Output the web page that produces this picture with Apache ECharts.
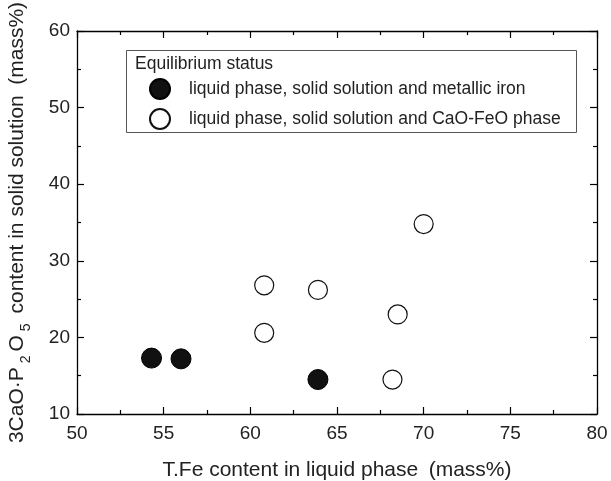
<!DOCTYPE html>
<html><head><meta charset="utf-8">
<script src="https://cdn.jsdelivr.net/npm/echarts@6/dist/echarts.min.js"></script>
<style>html,body{margin:0;padding:0;background:#fff}#c{width:611px;height:481px}</style>
</head><body><div id="c"></div>
<script>
var seriesNames = ['liquid phase, solid solution and metallic iron', 'liquid phase, solid solution and CaO-FeO phase'];
var metallicIron = [[54.3, 17.3], [56.0, 17.2], [63.9, 14.5]];
var caoFeoPhase = [[60.8, 26.8], [60.8, 20.6], [63.9, 26.2], [68.5, 23.0], [68.2, 14.5], [70.0, 34.8]];
var legendTitle = 'Equilibrium status';
var xName = 'T.Fe content in liquid phase\u2002(mass%)';

var F = 'Liberation Sans, Arial, sans-serif';
var chart = echarts.init(document.getElementById('c'));
var axisCommon = {
  axisLine: {lineStyle: {color: '#000', width: 1.3}},
  axisTick: {inside: true, length: 7, lineStyle: {color: '#000', width: 1.2}},
  minorTick: {show: true, splitNumber: 2, length: 4, lineStyle: {color: '#000', width: 1.2}},
  splitLine: {show: false}
};
chart.setOption({
  animation: false,
  textStyle: {fontFamily: F},
  grid: {left: 77, right: 14, top: 31, bottom: 67, containLabel: false, outerBoundsMode: 'none'},
  xAxis: [
    Object.assign({type: 'value', min: 50, max: 80, interval: 5, position: 'bottom',
      name: xName, nameLocation: 'middle', nameGap: 46,
      nameTextStyle: {fontSize: 21, color: '#222', fontFamily: F},
      axisLabel: {fontSize: 19, color: '#222', margin: 10, fontFamily: F}}, axisCommon),
    Object.assign({type: 'value', min: 50, max: 80, interval: 5, position: 'top',
      axisLabel: {show: false}}, axisCommon)
  ],
  yAxis: [
    Object.assign({type: 'value', min: 10, max: 60, interval: 10, position: 'left',
      name: '{n|3CaO·P}{s|2}{n|O}{s|5}{n| content in solid solution\u2002(mass%)}',
      nameLocation: 'middle', nameGap: 44, nameRotate: 90,
      nameTextStyle: {fontSize: 21, color: '#222', fontFamily: F,
        rich: {n: {fontSize: 21, color: '#222', fontFamily: F, lineHeight: 26, verticalAlign: 'top'},
               s: {fontSize: 14, color: '#222', fontFamily: F, lineHeight: 26, verticalAlign: 'bottom', padding: [12, 4, 0, 4]}}},
      axisLabel: {fontSize: 19, color: '#222', margin: 7, fontFamily: F}}, axisCommon),
    Object.assign({type: 'value', min: 10, max: 60, interval: 10, position: 'right',
      axisLabel: {show: false}}, axisCommon)
  ],
  legend: {
    orient: 'vertical', left: 149, top: 78, itemGap: 8, padding: 0,
    itemWidth: 20, itemHeight: 20,
    textStyle: {fontSize: 17.5, lineHeight: 20, color: '#222', fontFamily: F, padding: [0, 0, 0, 14]},
    data: [{name: seriesNames[0], icon: 'circle'}, {name: seriesNames[1], icon: 'circle'}]
  },
  graphic: [
    {type: 'rect', left: 126, top: 50, shape: {width: 450, height: 82},
      style: {fill: '#fff', stroke: '#555', lineWidth: 1}, z: 0},
    {type: 'text', left: 135, top: 55, style: {text: legendTitle, fontSize: 17.5, fill: '#222', fontFamily: F}, z: 1}
  ],
  series: [
    {name: seriesNames[0], type: 'scatter', data: metallicIron, symbolSize: 20, z: 3,
      itemStyle: {color: '#111', borderColor: '#000', borderWidth: 1, opacity: 1}},
    {name: seriesNames[1], type: 'scatter', data: caoFeoPhase, symbolSize: 19, z: 3,
      itemStyle: {color: '#fff', borderColor: '#111', borderWidth: 1.2, opacity: 1}}
  ]
});
</script></body></html>
